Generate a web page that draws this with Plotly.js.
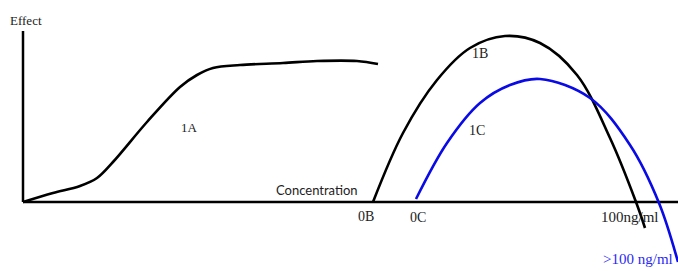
<!DOCTYPE html>
<html><head><meta charset="utf-8">
<script src="https://cdn.plot.ly/plotly-3.0.1.min.js"></script>
<style>html,body{margin:0;padding:0;background:#fff}#c{width:678px;height:271px}</style>
</head><body><div id="c"></div>
<script>
// Concentration (horizontal distance from origin) and effect (height above axis)
const conc1A = [0, 30, 57, 74, 90, 124, 157, 174, 190, 217, 260, 294, 334, 355];
const eff1A  = [0, 9, 16, 24, 40, 80, 115, 127, 134, 137, 139, 141, 141, 138];
const conc1B = [350, 380, 414, 447, 482, 517, 554, 587, 613, 622];
const eff1B  = [0, 69, 122, 154, 166, 159, 127, 64, 0, -26];
const conc1C = [393, 424, 457, 487, 517, 567, 607, 636, 655];
const eff1C  = [3, 59, 99, 117, 123, 104, 57, -1, -60];
const axisX = [0, 655], axisXy = [0, 0];
const axisYx = [0, 0], axisY = [0, 171];
const labels = {effect:"Effect", conc:"Concentration", a:"1A", b:"1B", c:"1C", ob:"0B", oc:"0C", hi:"100ng/ml", over:">100 ng/ml"};

const black = '#000000', blue = '#0a0ae6';
const traces = [
  {x: axisX, y: axisXy, mode:'lines', line:{color:black, width:2.5}},
  {x: axisYx, y: axisY, mode:'lines', line:{color:black, width:2.5}},
  {x: conc1A, y: eff1A, mode:'lines', line:{color:black, width:2.6, shape:'spline', smoothing:1}},
  {x: conc1B, y: eff1B, mode:'lines', line:{color:black, width:2.6, shape:'spline', smoothing:1}},
  {x: conc1C, y: eff1C, mode:'lines', line:{color:blue, width:2.6, shape:'spline', smoothing:1}}
];
const serif = 'Liberation Serif, serif';
const sans = 'Lato, Open Sans, sans-serif';
function ann(text, x, y, font, color, size){
  return {text:text, x:x, y:y, xref:'x', yref:'y', showarrow:false, xanchor:'center', yanchor:'middle',
          font:{family:font, size:size||12, color:color||'#222'}};
}
const layout = {
  width:678, height:271, margin:{l:0,r:0,t:0,b:0}, showlegend:false,
  paper_bgcolor:'#fff', plot_bgcolor:'#fff',
  xaxis:{range:[-23,655], visible:false, fixedrange:true},
  yaxis:{range:[-69,202], visible:false, fixedrange:true},
  annotations:[
    ann(labels.effect, 3, 182, serif, '#222', 13),
    ann(labels.conc, 294, 12, sans, '#222', 13),
    ann(labels.ob, 343, -14, serif, '#222', 14),
    ann(labels.oc, 395, -15, serif, '#222', 14),
    ann(labels.hi, 607, -15, serif, '#222', 15),
    ann(labels.over, 615, -57, serif, '#2a2af5', 15),
    ann(labels.a, 166, 75, serif, '#222', 13),
    ann(labels.b, 457, 149, serif, '#222', 14),
    ann(labels.c, 454, 72, serif, '#222', 14)
  ]
};
Plotly.newPlot('c', traces, layout, {staticPlot:true, displayModeBar:false});
</script></body></html>
